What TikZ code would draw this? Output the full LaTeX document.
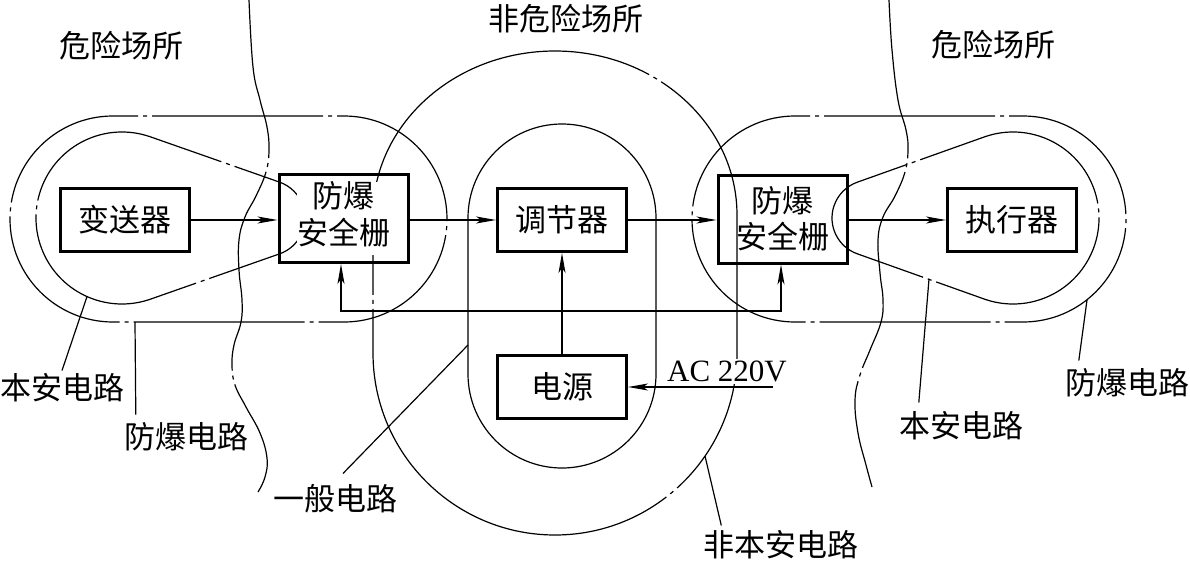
\documentclass[tikz,border=0pt]{standalone}
\usepackage{fontspec}
\setmainfont{Liberation Serif}
\newfontfamily\cjk{Noto Sans CJK SC}
\usetikzlibrary{arrows.meta,calc}
\newcommand\onwhite[1]{{\setlength{\fboxsep}{0pt}\colorbox{white}{\begin{tabular}{@{}c@{}}#1\end{tabular}}}}
\begin{document}
\begin{tikzpicture}[x=1pt,y=-1pt,
  thinline/.style={line width=1.2pt},
  chainline/.style 2 args={line width=1.2pt, dash pattern=on #1 off 5pt on 4pt off 5pt, dash phase=#2},
  box/.style={draw, line width=3pt, minimum width=129pt, minimum height=63pt, inner sep=0pt,
    font=\cjk\fontsize{31}{36}\selectfont, align=center},
  lbl/.style={font=\cjk\fontsize{31}{36}\selectfont, inner sep=0pt},
  arr/.style={line width=1.2pt, -{Stealth[length=20pt,width=7pt,inset=5pt]}},
  dblarr/.style={line width=1.2pt, {Stealth[length=20pt,width=7pt,inset=5pt]}-{Stealth[length=20pt,width=7pt,inset=5pt]}},
]
\useasboundingbox (0,0) rectangle (1190,562);

% boundaries of hazardous areas
\draw[chainline={206pt}{46pt}] plot[smooth,tension=0.7] coordinates {
  (249,0) (253,67) (260,100) (267,127) (269,150) (266,172) (256,196) (245,217)
  (239,240) (239,270) (242,300) (241,322) (234,345) (232,365) (235,385)
  (246,407) (260,433) (267,458) (265,477) (258,492)};
\draw[chainline={206pt}{46pt}] plot[smooth,tension=0.7] coordinates {
  (889,0) (892,50) (898,100) (906,130) (908,150) (905,172) (895,196) (883,217)
  (878,240) (880,273) (883,300) (881,322) (870,350) (860,375) (855,400)
  (858,433) (866,465) (872,487)};

% explosion-proof circuits (outer loops)
\draw[chainline={171pt}{146pt}] (113,116) -- (344,116) arc[start angle=-90,end angle=90,radius=103]
  -- (113,322) arc[start angle=90,end angle=270,radius=103] -- cycle;
\draw[chainline={171pt}{156pt}] (795,116) -- (1023,116) arc[start angle=-90,end angle=90,radius=103]
  -- (795,322) arc[start angle=90,end angle=270,radius=103] -- cycle;

% intrinsically safe circuits (teardrops)
\draw[chainline={216pt}{70pt}] ($(122,218)+(-71:86)$) arc[start angle=-71,end angle=-289,radius=86]
  -- ($(267,218)+(71:38)$) arc[start angle=71,end angle=-71,radius=38] -- cycle;
\draw[chainline={216pt}{67pt}] ($(1013,218)+(-109:86)$) arc[start angle=-109,end angle=109,radius=86]
  -- ($(870,218)+(109:38)$) arc[start angle=109,end angle=251,radius=38] -- cycle;

% general circuit
\draw[thinline] (468,218) arc[start angle=180,end angle=360,radius=94]
  -- (656,374) arc[start angle=0,end angle=180,radius=94] -- cycle;

% non intrinsically safe circuit
\draw[chainline={450pt}{80pt}] (373,215) arc[start angle=180,end angle=360,x radius=182,y radius=164]
  -- (737,353) arc[start angle=0,end angle=180,radius=182] -- cycle;

% boxes
\node[box] (tx) at (125,220) {变送器};
\node[box, minimum height=88pt] (bar1) at (343.5,218.5) {\onwhite{防爆\\安全栅}};
\node[box] (reg) at (562,220) {调节器};
\node[box, minimum height=88pt] (bar2) at (782.5,219) {防爆\\安全栅};
\node[box] (act) at (1012,220) {执行器};
\node[box] (ps) at (562,387) {电源};

% signal arrows
\draw[arr] (tx.east) -- (tx.east -| bar1.west);
\draw[arr] (bar1.east |- reg.west) -- (reg.west);
\draw[arr] (reg.east) -- (reg.east -| bar2.west);
\draw[arr] (bar2.east |- act.west) -- (act.west);
\draw[arr] (ps.north) -- (reg.south);
\coordinate (fbL) at (341,311);
\coordinate (fbR) at (781,311);
\draw[dblarr] (bar1.south -| fbL) -- (fbL) -- (fbR) -- (bar2.south -| fbR);
\coordinate (acS) at (773,387);
\draw[arr] (acS) -- (acS -| ps.east);
\node[font=\fontsize{31}{36}\selectfont, fill=white, inner sep=2pt] (ac) at (727,371.5) {AC 220V};

% area labels
\node[lbl] (hz1) at (121,46) {危险场所};
\node[lbl] (safe) at (566,19) {非危险场所};
\node[lbl] (hz2) at (993,45) {危险场所};

% circuit labels with leaders
\node[lbl] (l1) at (62,388) {本安电路};
\coordinate (c1) at ($(122,218)+(114:86)$);
\draw[thinline] (c1) -- ([shift={(0,-3)}]l1.north);

\node[lbl] (l2) at (186,437) {防爆电路};
\coordinate (c2) at (135,322);
\draw[thinline] (c2) -- ([shift={(12,-8)}]l2.north west);

\node[lbl] (l3) at (335,499) {一般电路};
\coordinate (c3) at (468,345);
\draw[thinline] (c3) -- ([shift={(8,-11)}]l3.north);

\node[lbl] (l4) at (781,545) {非本安电路};
\coordinate (c4) at (705,456);
\draw[thinline] (c4) -- ([shift={(18,-5)}]l4.north west);

\node[lbl] (l5) at (961,426) {本安电路};
\coordinate (c5) at (929,279);
\draw[thinline] (c5) -- ([shift={(20,-9)}]l5.north west);

\node[lbl] (l6) at (1127,383) {防爆电路};
\coordinate (c6) at (1087,300);
\draw[thinline] (c6) -- ([shift={(14,-8)}]l6.north west);
\end{tikzpicture}
\end{document}
